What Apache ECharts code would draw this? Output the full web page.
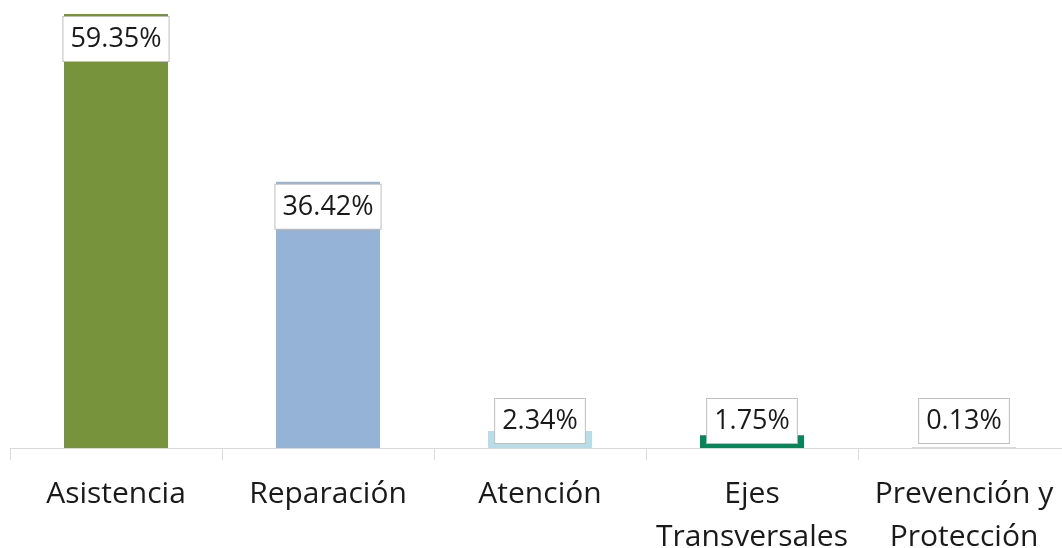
<!DOCTYPE html>
<html>
<head>
<meta charset="utf-8">
<script src="https://cdn.jsdelivr.net/npm/echarts@6/dist/echarts.min.js"></script>
<style>
  html, body { margin: 0; padding: 0; background: #fff; }
  #chart { width: 1062px; height: 548px; }
</style>
</head>
<body>
<div id="chart"></div>
<script>
// categories and values (percent)
var categories = ['Asistencia', 'Reparación', 'Atención', 'Ejes\nTransversales', 'Prevención y\nProtección'];
var values = [59.35, 36.42, 2.34, 1.75, 0.13];
var colors = ['#77933C', '#95B3D7', '#B7DDE8', '#00875A', '#D9D9D9'];

var chartDom = document.getElementById('chart');
var myChart = echarts.init(chartDom);

var barData = values.map(function (v, i) {
  return {
    value: v,
    itemStyle: { color: colors[i] },
    label: {
      // small bars: keep label box just above the baseline
      position: v > 10 ? 'insideTop' : 'insideBottom',
      distance: v > 10 ? 3 : 5
    }
  };
});

var option = {
  animation: false,
  grid: { left: 10, right: -8, top: 14, bottom: 100, outerBoundsMode: 'none', containLabel: false },
  xAxis: {
    type: 'category',
    data: categories,
    axisLine: { lineStyle: { color: '#D9D9D9', width: 1 } },
    axisTick: { show: true, length: 12, lineStyle: { color: '#D9D9D9' } },
    axisLabel: {
      interval: 0,
      margin: 25,
      fontFamily: 'Open Sans',
      fontSize: 30,
      lineHeight: 43,
      color: '#1a1a1a'
    }
  },
  yAxis: {
    type: 'value',
    min: 0,
    max: 'dataMax',
    show: false,
    splitLine: { show: false }
  },
  series: [
    {
      type: 'bar',
      barWidth: 104,
      data: barData,
      label: {
        show: true,
        formatter: function (p) { return p.value.toFixed(2) + '%'; },
        fontFamily: 'Open Sans',
        fontSize: 27,
        color: '#1a1a1a',
        backgroundColor: '#fff',
        borderColor: '#BFBFBF',
        borderWidth: 1,
        padding: [9, 7, 8, 7]
      }
    }
  ]
};

myChart.setOption(option);
</script>
</body>
</html>
